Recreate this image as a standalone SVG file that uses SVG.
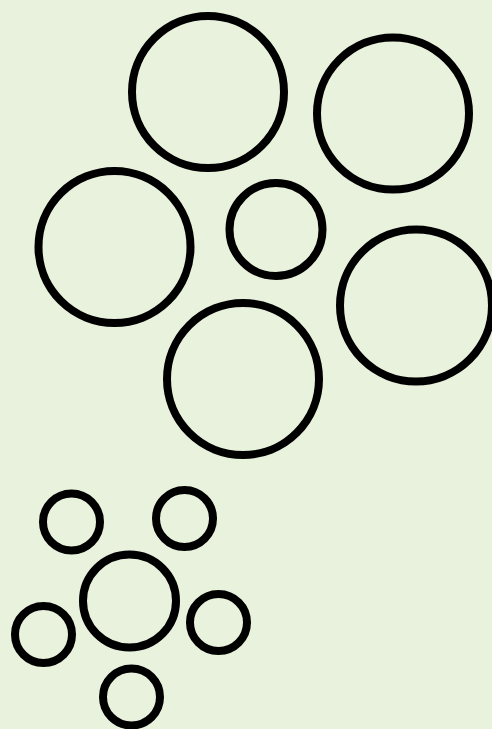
<svg xmlns="http://www.w3.org/2000/svg" width="492" height="729" viewBox="0 0 492 729">
<style>
.c{fill:none;stroke:#000;stroke-width:8}
</style>
<rect width="492" height="729" fill="#e8f2dc"/>
<g id="c1"><circle class="c" cx="208" cy="92" r="76"/></g>
<g id="c2"><circle class="c" cx="393" cy="113.5" r="76"/></g>
<g id="c3"><circle class="c" cx="114.5" cy="247" r="76"/></g>
<g id="c4"><circle class="c" cx="276" cy="229.5" r="46.5"/></g>
<g id="c5"><circle class="c" cx="416" cy="305.5" r="76"/></g>
<g id="c6"><circle class="c" cx="243" cy="379" r="76"/></g>
<g id="c7"><circle class="c" cx="71.5" cy="522" r="28.5"/></g>
<g id="c8"><circle class="c" cx="184.5" cy="518.5" r="28.5"/></g>
<g id="c9"><circle class="c" cx="129.5" cy="601" r="46.5"/></g>
<g id="c10"><circle class="c" cx="43.5" cy="634.5" r="28.5"/></g>
<g id="c11"><circle class="c" cx="218.5" cy="622.5" r="28.5"/></g>
<g id="c12"><circle class="c" cx="131.5" cy="697" r="28.5"/></g>
</svg>
